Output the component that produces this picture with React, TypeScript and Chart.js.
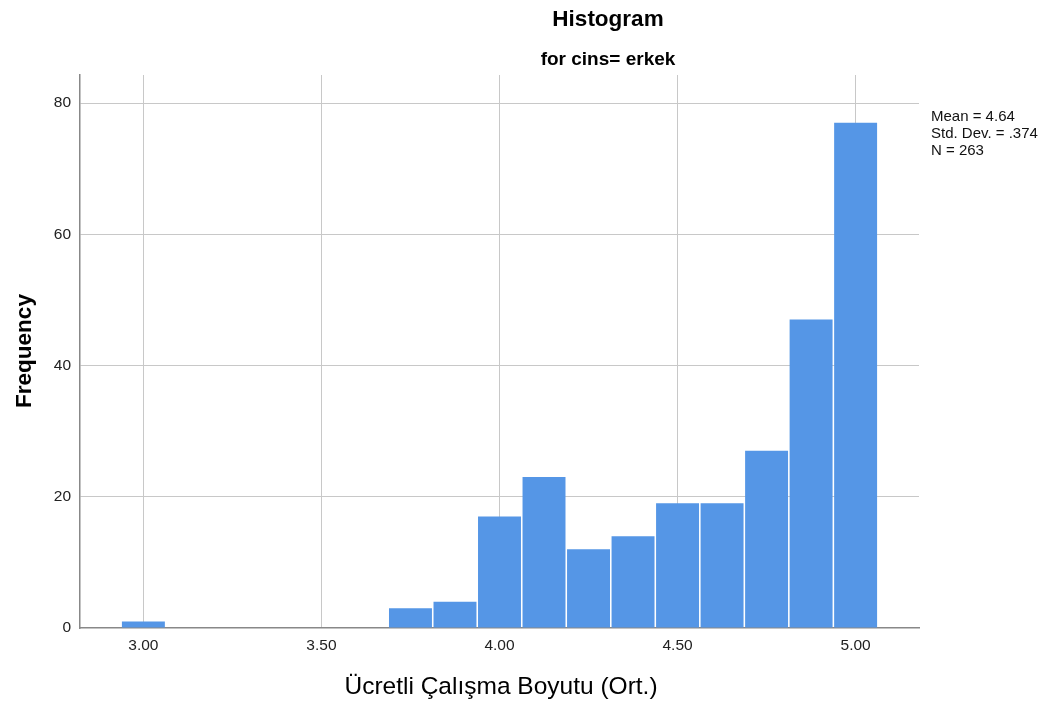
import React, { useEffect, useRef } from "react";
import { Chart, registerables } from "chart.js";

Chart.register(...registerables);

const binCenters: number[] = [3.0, 3.75, 3.875, 4.0, 4.125, 4.25, 4.375, 4.5, 4.625, 4.75, 4.875, 5.0];
const frequencies: number[] = [1, 3, 4, 17, 23, 12, 14, 19, 19, 27, 47, 77];
const xTickValues: number[] = [3.0, 3.5, 4.0, 4.5, 5.0];
const yTickValues: number[] = [0, 20, 40, 60, 80];
const statsLines: string[] = ["Mean = 4.64", "Std. Dev. = .374", "N = 263"];
const titleText = "Histogram";
const subtitleText = "for cins= erkek";
const xTitle = "Ücretli Çalışma Boyutu (Ort.)";
const yTitle = "Frequency";

const FONT = "'Liberation Sans', Arial, Helvetica, sans-serif";

export default function App() {
  const ref = useRef<HTMLCanvasElement | null>(null);

  useEffect(() => {
    document.body.style.margin = "0";
    const canvas = ref.current!;
    const textPlugin = {
      id: "textPlugin",
      afterDraw(chart: any) {
        const ctx = chart.ctx as CanvasRenderingContext2D;
        ctx.save();
        ctx.fillStyle = "#000";
        ctx.textAlign = "center";
        ctx.textBaseline = "alphabetic";
        ctx.font = `bold 22.5px ${FONT}`;
        ctx.fillText(titleText, 608, 26);
        ctx.font = `bold 19px ${FONT}`;
        ctx.fillText(subtitleText, 608, 65);
        ctx.font = `24.5px ${FONT}`;
        ctx.fillText(xTitle, 501, 694);
        ctx.save();
        ctx.translate(31, 351);
        ctx.rotate(-Math.PI / 2);
        ctx.font = `bold 22.5px ${FONT}`;
        ctx.fillText(yTitle, 0, 0);
        ctx.restore();
        ctx.textAlign = "left";
        ctx.font = `15px ${FONT}`;
        ctx.fillStyle = "#111";
        statsLines.forEach((s, i) => ctx.fillText(s, 931, 121 + i * 17));
        ctx.restore();
      },
    };

    const chart = new Chart(canvas, {
      type: "bar",
      data: {
        datasets: [
          {
            data: binCenters.map((x, i) => ({ x, y: frequencies[i] })),
            backgroundColor: "#5596E6",
            borderWidth: 0,
            barPercentage: 0.965,
            categoryPercentage: 1,
          },
        ],
      },
      options: {
        animation: false,
        responsive: false,
        layout: { padding: { left: 0, top: 75, right: 1053 - 919, bottom: 0 } },
        plugins: { legend: { display: false }, tooltip: { enabled: false }, title: { display: false } },
        scales: {
          x: {
            type: "linear",
            min: 2.822,
            max: 5.178,
            offset: false,
            grid: { offset: false, color: "#c8c8c8", lineWidth: 1, drawTicks: false },
            border: { display: true, color: "#888", width: 1.5 },
            afterBuildTicks: (s: any) => {
              s.ticks = xTickValues.map((v) => ({ value: v }));
            },
            afterFit: (s: any) => {
              s.height = 706 - 628;
            },
            ticks: {
              padding: 8,
              color: "#222",
              font: { family: FONT, size: 15.5 },
              callback: (v: any) => Number(v).toFixed(2),
            },
          },
          y: {
            type: "linear",
            min: 0,
            max: 84.27,
            grid: {
              color: (c: any) => (c.tick && c.tick.value === 0 ? "rgba(0,0,0,0)" : "#c8c8c8"),
              lineWidth: 1,
              drawTicks: false,
            },
            border: { display: true, color: "#888", width: 1.5 },
            afterBuildTicks: (s: any) => {
              s.ticks = yTickValues.map((v) => ({ value: v }));
            },
            afterFit: (s: any) => {
              s.width = 80;
            },
            ticks: {
              padding: 9,
              color: "#222",
              font: { family: FONT, size: 15.5 },
              callback: (v: any) => String(v),
            },
          },
        },
      },
      plugins: [textPlugin],
    } as any);
    return () => chart.destroy();
  }, []);

  return (
    <div style={{ width: 1053, height: 706, background: "#fff" }}>
      <canvas ref={ref} width={1053} height={706} style={{ display: "block" }} />
    </div>
  );
}
